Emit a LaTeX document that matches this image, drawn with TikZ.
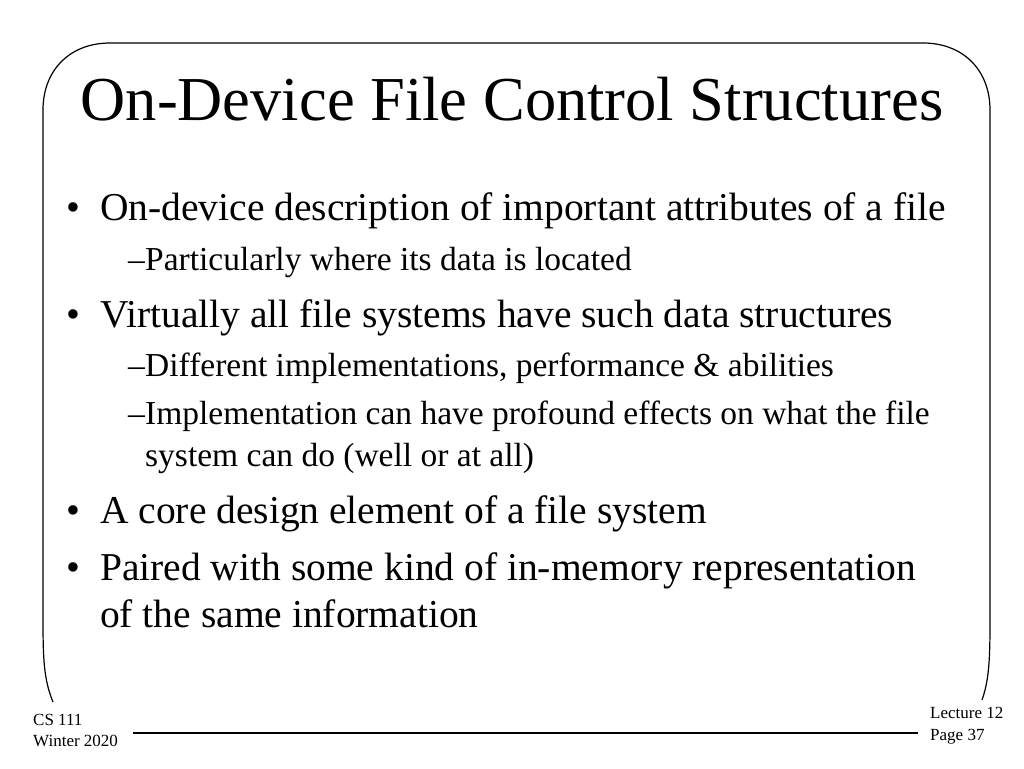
\documentclass[tikz,border=0pt]{standalone}
\usepackage{fontspec}
\setmainfont{Liberation Serif}
\begin{document}
\begin{tikzpicture}[x=1pt,y=-1pt,
  lvA/.style={anchor=base west,inner sep=0pt,font=\fontsize{39.5}{44}\selectfont},
  lvB/.style={anchor=base west,inner sep=0pt,font=\fontsize{33.5}{37}\selectfont},
  foot/.style={anchor=base west,inner sep=0pt,font=\fontsize{17}{19}\selectfont},
  frame/.style={line width=1.2pt}]
\useasboundingbox (0,0) rectangle (1024,768);
\draw[frame] (53,702) .. controls (44,680) and (43,660) .. (43,620) -- (43,110)
  .. controls (43,70) and (70,43) .. (110,43) -- (923,43)
  .. controls (963,43) and (990,70) .. (990,110) -- (990,620)
  .. controls (990,660) and (989,680) .. (982,700);
\draw[line width=1.6pt] (133,733) -- (918,733);
\node[anchor=base,inner sep=0pt,font=\fontsize{62.5}{66}\selectfont] (title) at (512,120) {On-Device File Control Structures};
\foreach \y/\n in {220/b1,327/b2,523/b3,580/b4}{\node[lvA] (\n) at (66,\y) {•};}
\node[lvA] (t1) at (100,220) {On-device description of important attributes of a file};
\node[lvB] (d1) at (128,270) {–};
\node[lvB] (s1) at (145,270) {Particularly where its data is located};
\node[lvA] (t2) at (100,327) {Virtually all file systems have such data structures};
\node[lvB] (d2) at (128,376) {–};
\node[lvB] (s2) at (145,376) {Different implementations, performance \& abilities};
\node[lvB] (d3) at (128,424) {–};
\node[lvB] (s3) at (145,424) {Implementation can have profound effects on what the file};
\node[lvB] (s3b) at (145,466) {system can do (well or at all)};
\node[lvA] (t3) at (100,523) {A core design element of a file system};
\node[lvA] (t4) at (100,580) {Paired with some kind of in-memory representation};
\node[lvA] (t4b) at (100,627) {of the same information};
\node[foot] (f1) at (33,725) {CS 111};
\node[foot] (f2) at (33,746) {Winter 2020};
\node[foot] (f3) at (930,718) {Lecture 12};
\node[foot] (f4) at (930,740) {Page 37};
\end{tikzpicture}
\end{document}
